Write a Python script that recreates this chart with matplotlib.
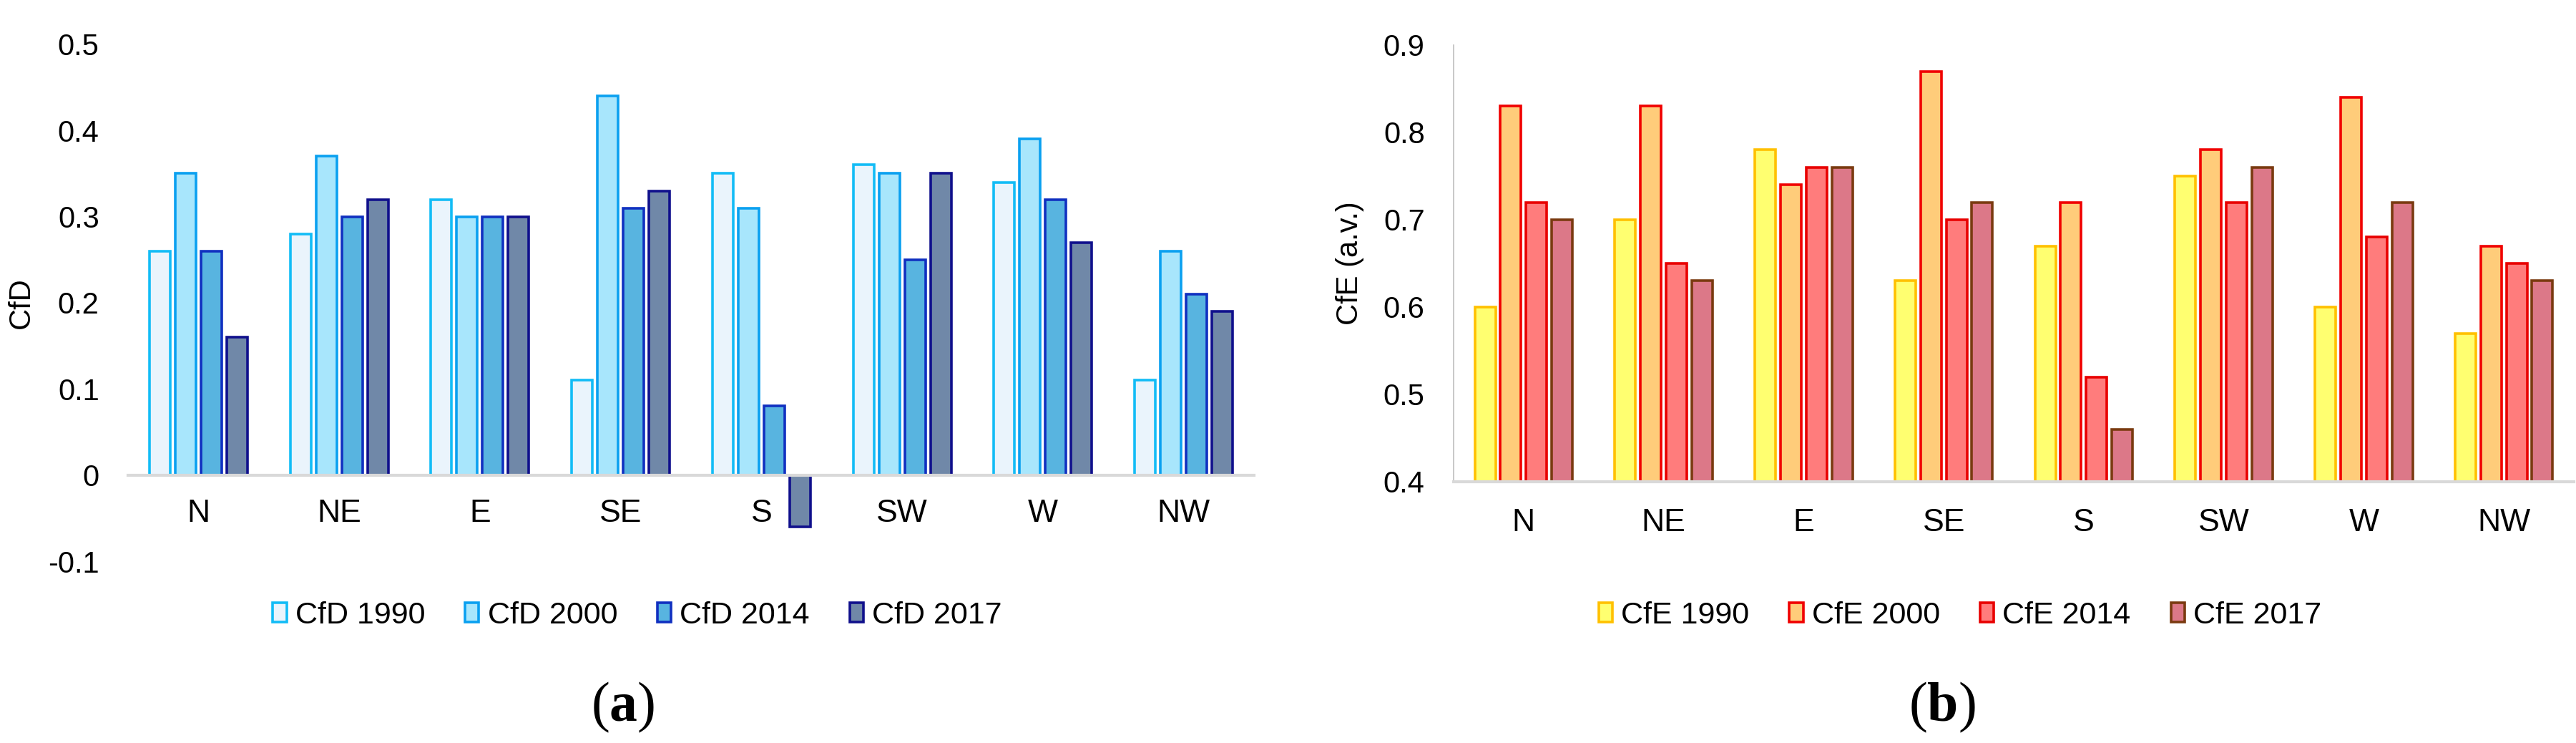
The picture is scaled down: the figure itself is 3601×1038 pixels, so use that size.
import numpy as np
import matplotlib
matplotlib.use("Agg")
import matplotlib.pyplot as plt
from matplotlib.patches import Patch

plt.rcParams['font.family'] = ['Liberation Sans', 'DejaVu Sans']
plt.rcParams['mathtext.fontset'] = 'custom'
plt.rcParams['mathtext.rm'] = 'Liberation Serif'
plt.rcParams['mathtext.bf'] = 'Liberation Serif:bold'

categories = ["N", "NE", "E", "SE", "S", "SW", "W", "NW"]

cfd_labels = ["CfD 1990", "CfD 2000", "CfD 2014", "CfD 2017"]
cfd_1990 = [0.26, 0.28, 0.32, 0.11, 0.35, 0.36, 0.34, 0.11]
cfd_2000 = [0.35, 0.37, 0.30, 0.44, 0.31, 0.35, 0.39, 0.26]
cfd_2014 = [0.26, 0.30, 0.30, 0.31, 0.08, 0.25, 0.32, 0.21]
cfd_2017 = [0.16, 0.32, 0.30, 0.33, -0.06, 0.35, 0.27, 0.19]

cfe_labels = ["CfE 1990", "CfE 2000", "CfE 2014", "CfE 2017"]
cfe_1990 = [0.60, 0.70, 0.78, 0.63, 0.67, 0.75, 0.60, 0.57]
cfe_2000 = [0.83, 0.83, 0.74, 0.87, 0.72, 0.78, 0.84, 0.67]
cfe_2014 = [0.72, 0.65, 0.76, 0.70, 0.52, 0.72, 0.68, 0.65]
cfe_2017 = [0.70, 0.63, 0.76, 0.72, 0.46, 0.76, 0.72, 0.63]

cfd_yticks = [-0.1, 0, 0.1, 0.2, 0.3, 0.4, 0.5]
cfd_yticklabels = ["-0.1", "0", "0.1", "0.2", "0.3", "0.4", "0.5"]
cfe_yticks = [0.4, 0.5, 0.6, 0.7, 0.8, 0.9]
cfe_yticklabels = ["0.4", "0.5", "0.6", "0.7", "0.8", "0.9"]

cfd_fill = ["#EAF4FC", "#A8E6FC", "#58B4E0", "#7088A8"]
cfd_edge = ["#12BCF6", "#0AA0F0", "#1030C0", "#10108C"]
cfe_fill = ["#FFFF70", "#FFCC7A", "#FF7C7C", "#DC7888"]
cfe_edge = ["#FFC000", "#F00000", "#E80000", "#7A3A10"]

W, H = 3601, 1038
fig = plt.figure(figsize=(W / 100, H / 100), dpi=100)

ax1 = fig.add_axes([179 / W, 1 - 784 / H, (1753 - 179) / W, (784 - 62) / H])
ax2 = fig.add_axes([2032 / W, 1 - 673 / H, (3598 - 2032) / W, (673 - 63) / H])

x = np.arange(len(categories))
slot = 0.183
bw = 0.148
offsets = (np.arange(4) - 1.5) * slot

def draw(ax, series, fills, edges, labels, ylim, yticks, yticklabels, ylabel, base):
    for i, vals in enumerate(series):
        v = np.array(vals)
        ax.bar(x + offsets[i], v - base, bw, bottom=base, color=fills[i],
               edgecolor=edges[i], linewidth=2.6, label=labels[i], zorder=3)
    ax.set_xlim(-0.5, len(categories) - 0.5)
    ax.set_ylim(*ylim)
    ax.set_yticks(yticks)
    ax.set_yticklabels(yticklabels)
    ax.set_xticks(x)
    ax.set_xticklabels(categories)
    ax.tick_params(axis='y', length=0, pad=29, labelsize=30)
    ax.tick_params(axis='x', length=0, labelsize=32)
    for s in ['top', 'right']:
        ax.spines[s].set_visible(False)
    ax.spines['bottom'].set_position(('data', base))
    ax.spines['bottom'].set_color('#D9D9D9')
    ax.spines['bottom'].set_linewidth(3.0)
    ax.spines['bottom'].set_zorder(4)
    ax.set_ylabel(ylabel, fontsize=30, va='center')

draw(ax1, [cfd_1990, cfd_2000, cfd_2014, cfd_2017], cfd_fill, cfd_edge, cfd_labels,
     (-0.1, 0.5), cfd_yticks, cfd_yticklabels, "CfD", 0.0)
ax1.spines['left'].set_visible(False)
ax1.tick_params(axis='x', pad=24)
ax1.yaxis.set_label_coords(-(179 - 30) / (1753 - 179), 0.5)

draw(ax2, [cfe_1990, cfe_2000, cfe_2014, cfe_2017], cfe_fill, cfe_edge, cfe_labels,
     (0.4, 0.9), cfe_yticks, cfe_yticklabels, "CfE (a.v.)", 0.4)
ax2.spines['left'].set_color('#BFBFBF')
ax2.spines['left'].set_linewidth(1.2)
ax2.tick_params(axis='x', pad=27)
ax2.yaxis.set_label_coords(-(2032 - 1887) / (3598 - 2032), 0.5)

def legend(fills, edges, labels, cx, cy):
    handles = [Patch(facecolor=f, edgecolor=e, linewidth=2.6) for f, e in zip(fills, edges)]
    fig.legend(handles, labels, loc='center', bbox_to_anchor=(cx, cy), ncol=4,
               frameon=False, fontsize=31, handlelength=0.45, handleheight=0.6,
               handletextpad=0.28, columnspacing=1.3, borderaxespad=0)

legend(cfd_fill, cfd_edge, cfd_labels, 891 / W, 1 - 860 / H)
legend(cfe_fill, cfe_edge, cfe_labels, 2740 / W, 1 - 860 / H)

fig.text(871 / W, 1 - 988 / H, r'($\mathbf{a}$)', ha='center', va='center',
         fontsize=56, family='Liberation Serif')
fig.text(2715 / W, 1 - 988 / H, r'($\mathbf{b}$)', ha='center', va='center',
         fontsize=56, family='Liberation Serif')

fig.savefig("out.png", dpi=100, facecolor='white')
